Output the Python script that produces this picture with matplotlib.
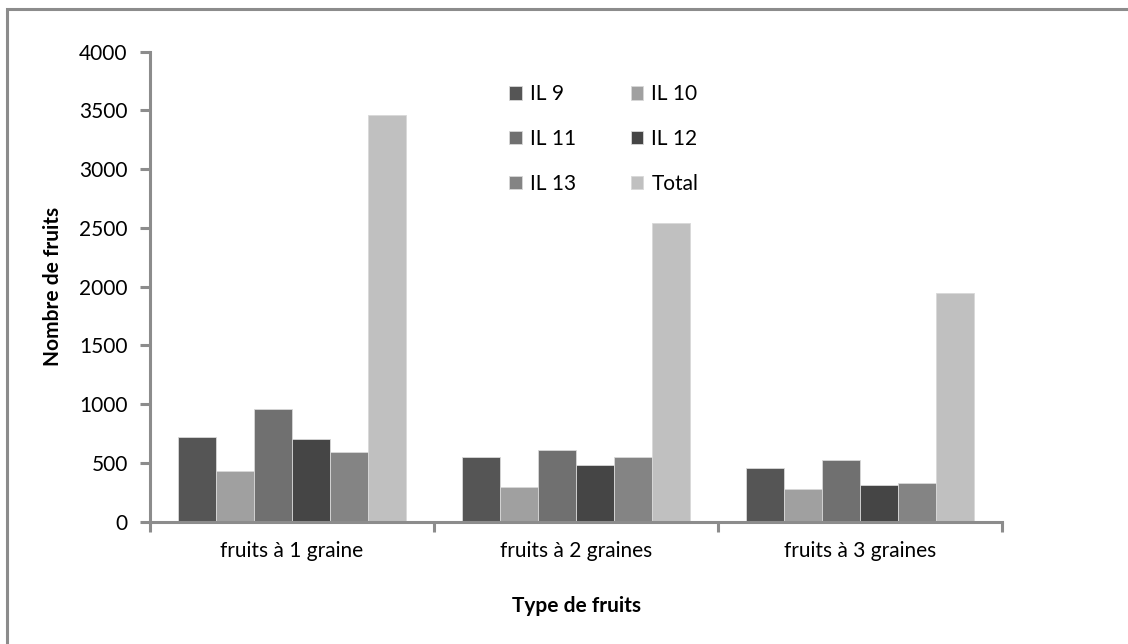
import numpy as np
import matplotlib
matplotlib.use("Agg")
import matplotlib.pyplot as plt
from matplotlib.patches import Rectangle

plt.rcParams['font.family'] = ['Lato', 'DejaVu Sans']

categories = ["fruits à 1 graine", "fruits à 2 graines", "fruits à 3 graines"]
series_names = ["IL 9", "IL 10", "IL 11", "IL 12", "IL 13", "Total"]
il9 = [725, 553, 455]
il10 = [435, 298, 282]
il11 = [962, 608, 523]
il12 = [706, 486, 316]
il13 = [592, 553, 332]
total = [3462, 2545, 1950]
colors = ["#555555", "#a0a0a0", "#707070", "#454545", "#848484", "#c0c0c0"]

grey = "#8c8c8c"
fs = 15
fig = plt.figure(figsize=(11.28, 6.44), dpi=100)
ax = fig.add_axes([150 / 1128, 1 - 521.7 / 644, (1002 - 150) / 1128, (521.7 - 51.7) / 644])

x = np.arange(len(categories))
w = 0.1336
all_series = [il9, il10, il11, il12, il13, total]
bars = []
for i, (vals, c) in enumerate(zip(all_series, colors)):
    b = ax.bar(x + (i - 2.5) * w, vals, w, color=c, edgecolor="#d8d8d8",
               linewidth=0.6, label=series_names[i], zorder=2)
    bars.append(b)

ax.set_xlim(-0.5, 2.5)
ax.set_ylim(0, 4000)
ax.set_yticks(np.arange(0, 4001, 500))
ax.set_xticks(x)
ax.set_xticklabels(categories)
ax.set_xticks([-0.5, 0.5, 1.5, 2.5], minor=True)

for s in ["top", "right"]:
    ax.spines[s].set_visible(False)
for s in ["left", "bottom"]:
    ax.spines[s].set_color(grey)
    ax.spines[s].set_linewidth(2.2)

ax.tick_params(axis="y", direction="out", length=7, width=2.2, color=grey,
               labelsize=fs, pad=9)
ax.tick_params(axis="x", which="major", length=0, labelsize=fs, pad=14)
ax.tick_params(axis="x", which="minor", direction="out", length=7, width=2.2, color=grey)

ax.set_ylabel("Nombre de fruits", fontsize=fs, fontweight="bold", labelpad=12)
ax.set_xlabel("Type de fruits", fontsize=fs, fontweight="bold", labelpad=25)

# legend in row order (IL 9, IL 10 / IL 11, IL 12 / IL 13, Total)
order = [0, 2, 4, 1, 3, 5]
ax.legend([bars[i] for i in order], [series_names[i] for i in order],
          ncol=2, frameon=False, fontsize=fs, loc="upper left",
          bbox_to_anchor=(499 / 1128, 1 - 74 / 644), bbox_transform=fig.transFigure,
          handlelength=0.6, handleheight=0.6, handletextpad=0.4,
          labelspacing=1.18, columnspacing=2.6, borderpad=0)

# outer chart frame
fig.patches.append(Rectangle((7 / 1128, -0.05), 1.2, 1 - 9 / 644 + 0.05,
                             transform=fig.transFigure, fill=False,
                             edgecolor=grey, linewidth=2.2))

fig.savefig("out.png", dpi=100)
